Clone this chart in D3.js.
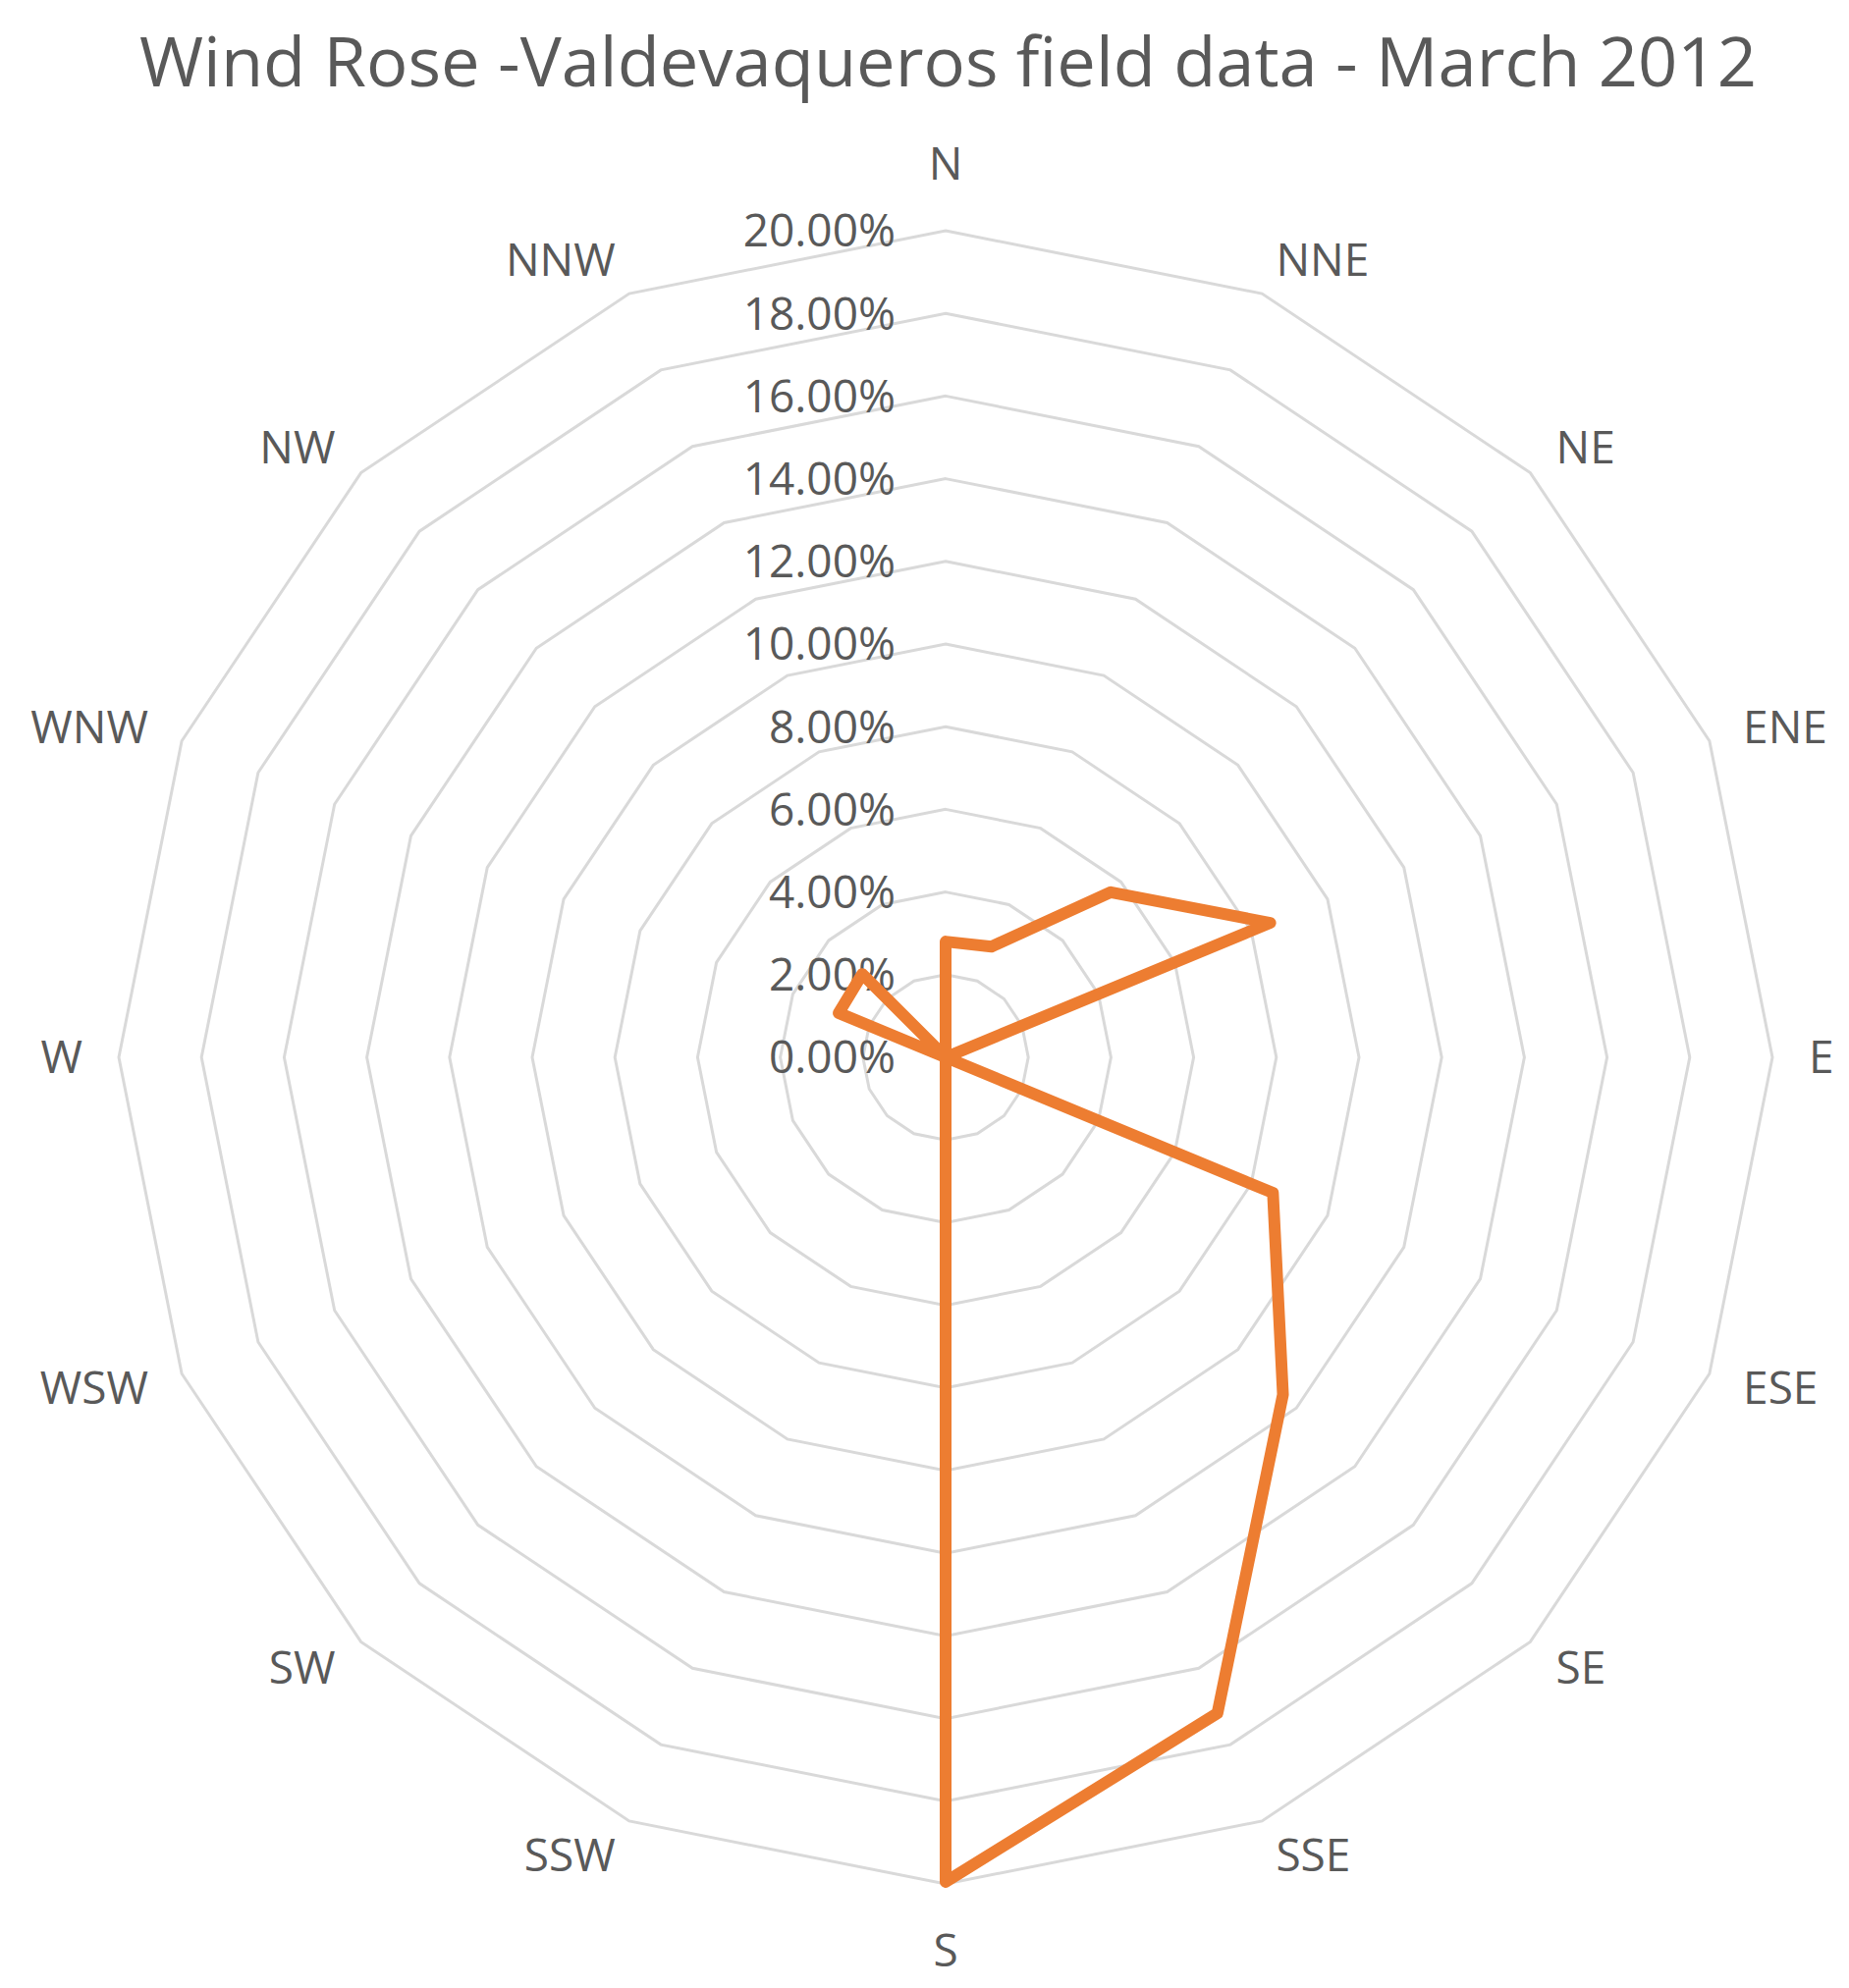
<!DOCTYPE html>
<html>
<head>
<meta charset="utf-8">
<script src="https://cdn.jsdelivr.net/npm/d3@7"></script>
<style>
  body { margin: 0; background: #fff; }
  text { font-family: "Open Sans", "Noto Sans", sans-serif; fill: #595959; }
</style>
</head>
<body>
<div id="RadarContainer"></div>
<script>
// wind directions, clockwise from north
const directions = ["N", "NNE", "NE", "ENE", "E", "ESE", "SE", "SSE",
                    "S", "SSW", "SW", "WSW", "W", "WNW", "NW", "NNW"];
// frequency in percent
const frequency = [2.8, 2.9, 5.65, 8.5, 0, 8.57, 11.54, 17.18,
                   19.95, 0, 0, 0, 0, 2.8, 2.85, 0];
const tickValues = [0, 2, 4, 6, 8, 10, 12, 14, 16, 18, 20];
const chartTitle = "Wind Rose -Valdevaqueros field data - March 2012";

const width = 1883, height = 2025;
const cx = 963, cy = 1077, outerRadius = 842;

const svg = d3.select("#RadarContainer")
    .append("svg")
    .attr("width", width)
    .attr("height", height);

// title
svg.append("text")
    .attr("x", 965.5)
    .attr("y", 88)
    .attr("text-anchor", "middle")
    .attr("textLength", 1647)
    .attr("lengthAdjust", "spacingAndGlyphs")
    .style("font-size", "69px")
    .text(chartTitle);

const g = svg.append("g")
    .attr("transform", `translate(${cx},${cy})`);

// scales
const rScale = d3.scaleLinear()
    .domain([0, 20])
    .range([0, outerRadius]);

// one step per direction, N at the top, going clockwise
const step = 2 * Math.PI / directions.length;
const angle = d => directions.indexOf(d) * step;

// grid rings
const ringLine = r => d3.lineRadial()
    .angle(d => angle(d))
    .radius(() => rScale(r))
    .curve(d3.curveLinearClosed);

g.append("g")
    .selectAll("path")
    .data(tickValues.filter(t => t > 0))
    .enter().append("path")
    .attr("d", t => ringLine(t)(directions))
    .attr("fill", "none")
    .attr("stroke", "#d9d9d9")
    .attr("stroke-width", 3);

// value labels
g.append("g")
    .selectAll("text")
    .data(tickValues)
    .enter().append("text")
    .attr("x", -51)
    .attr("y", t => -rScale(t))
    .attr("dy", "0.357em")
    .attr("text-anchor", "end")
    .style("font-size", "46px")
    .text(t => t.toFixed(2) + "%");

// direction labels
const labelRadius = outerRadius + 37;
g.append("g")
    .selectAll("text")
    .data(directions)
    .enter().append("text")
    .each(function(d) {
        const a = angle(d);
        const sx = Math.sin(a), sy = -Math.cos(a);
        let x = labelRadius * sx, y = labelRadius * sy;
        let anchor = "middle";
        if (sx > 0.01) anchor = "start";
        else if (sx < -0.01) anchor = "end";
        else y += sy * 31;
        d3.select(this)
            .attr("x", x)
            .attr("y", y)
            .attr("dy", "0.357em")
            .attr("text-anchor", anchor);
    })
    .style("font-size", "46px")
    .text(d => d);

// data line
const dataLine = d3.lineRadial()
    .angle((d, i) => i * step)
    .radius(d => rScale(d))
    .curve(d3.curveLinearClosed);

g.append("path")
    .datum(frequency)
    .attr("d", dataLine)
    .attr("fill", "none")
    .attr("stroke", "#ed7d31")
    .attr("stroke-width", 12)
    .attr("stroke-linejoin", "round");
</script>
</body>
</html>
